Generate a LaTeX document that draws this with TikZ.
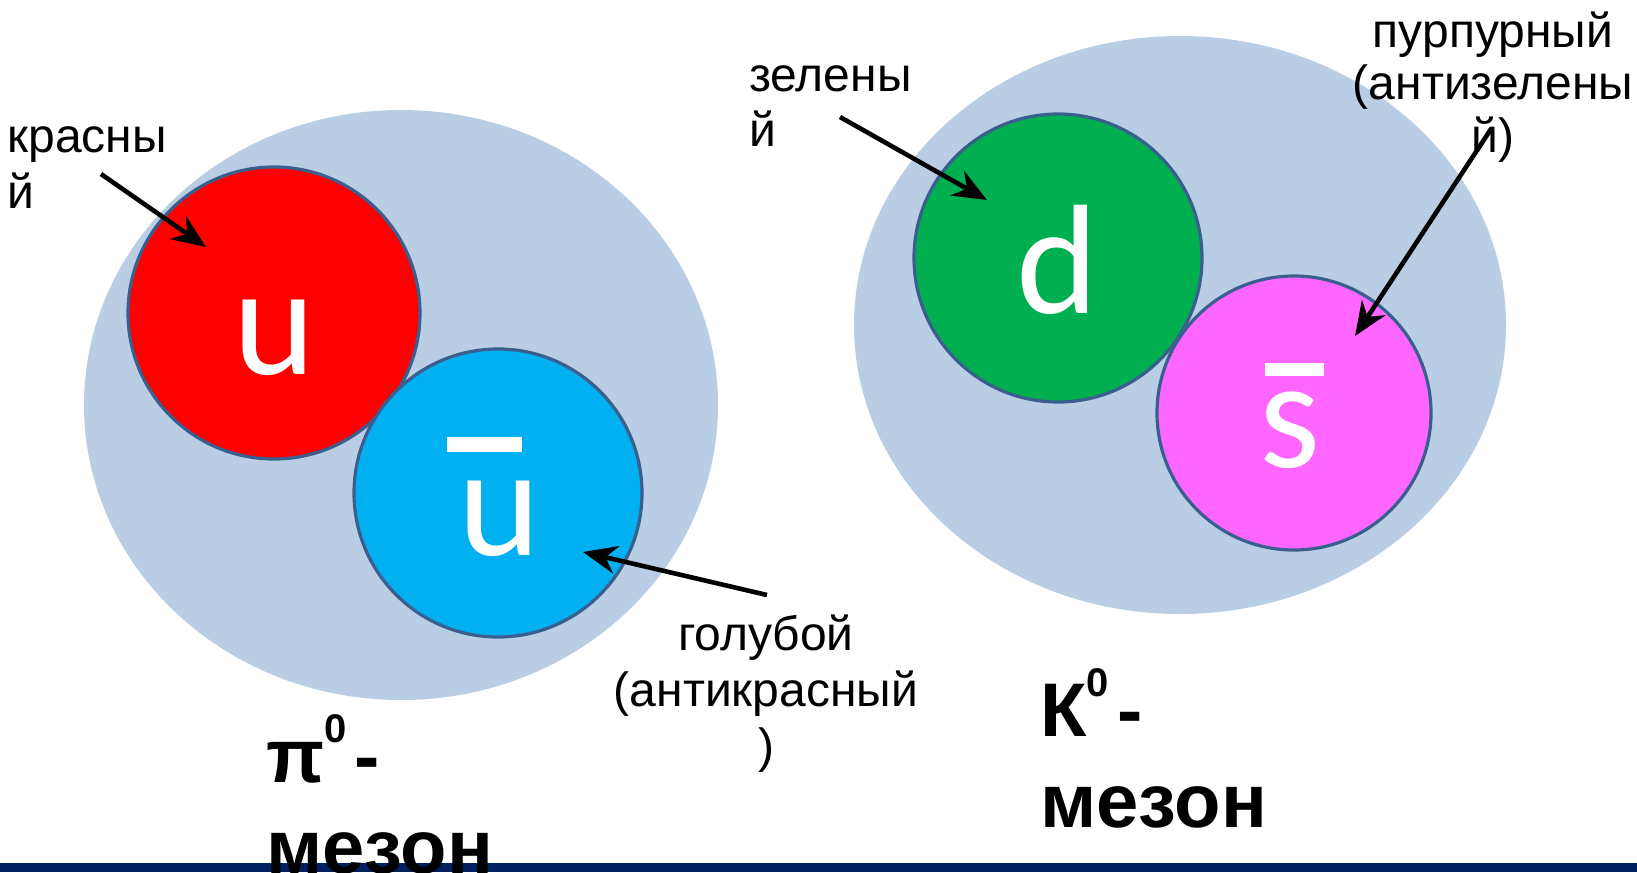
\documentclass[tikz,border=0pt]{standalone}
\usepackage{fontspec}
\setmainfont{Liberation Sans}
\newfontfamily\quarkfont{Carlito}
\usetikzlibrary{arrows.meta}

\definecolor{mesonfill}{HTML}{B9CDE5}
\definecolor{quarkedge}{HTML}{3A5F8E}
\definecolor{quarkred}{HTML}{FF0000}
\definecolor{quarkcyan}{HTML}{00B0F0}
\definecolor{quarkgreen}{HTML}{00B050}
\definecolor{quarkpink}{HTML}{FF66FF}
\definecolor{footerblue}{HTML}{002060}

\begin{document}
\begin{tikzpicture}[
  x=0.5pt,
  y=-0.5pt,
  meson/.style={fill=mesonfill},
  quark/.style={draw=quarkedge,line width=1.6pt},
  flavour/.style={text=white,inner sep=0pt,anchor=base,font=\quarkfont\fontsize{78}{78}\selectfont},
  colourlabel/.style={inner sep=0pt,font=\fontsize{24}{28}\selectfont},
  mesonname/.style={inner sep=0pt,anchor=base west,align=left,font=\bfseries\fontsize{38}{45.5}\selectfont},
  pointer/.style={draw=black,line width=2.3pt,-{Stealth[length=17pt,width=14pt]}}
]
  % Slide frame in pixels, y running downwards.
  \useasboundingbox (0,0) rectangle (1637,872);

  % Meson bodies.
  \fill[meson] (401,405) ellipse[x radius=317,y radius=295];
  \fill[meson] (1180,325) ellipse[x radius=326,y radius=289];

  % Quark discs: pion pair on the left, kaon pair on the right.
  \draw[quark,fill=quarkred] (274,313) circle[radius=146];
  \draw[quark,fill=quarkcyan] (498,493) circle[radius=144];
  \draw[quark,fill=quarkgreen] (1058,258) circle[radius=144];
  \draw[quark,fill=quarkpink] (1294,413) circle[radius=137];

  % Quark letters, antiquark bars drawn as white strips.
  \node[flavour] (upQ) at (274,374) {u};
  \node[flavour] (antiupQ) at (499,555) {u};
  \node[flavour] (downQ) at (1057,313) {d};
  \node[flavour] (antistrangeQ) at (1290,467) {s};
  \fill[white] (447,437) rectangle (522,452);
  \fill[white] (1265,363) rectangle (1324,376);

  % Colour labels (placed at the baseline of their last line).
  \node[colourlabel,anchor=base west,align=left] (redLabel) at (7,208) {красны\\й};
  \node[colourlabel,anchor=base west,align=left] (greenLabel) at (749,147) {зелены\\й};
  \node[colourlabel,anchor=base,align=center,font=\fontsize{24}{26}\selectfont] (pinkLabel) at (1493,152) {пурпурный\\(антизелены\\й)};
  \node[colourlabel,anchor=base,align=center] (blueLabel) at (766,762) {голубой\\(антикрасный\\)};

  % Arrow ends.
  \coordinate (redFrom) at (101,174);
  \coordinate (redTo) at (206,247);
  \coordinate (greenFrom) at (840,117);
  \coordinate (greenTo) at (987,200);
  \coordinate (pinkFrom) at (1491,129);
  \coordinate (pinkTo) at (1355,336);
  \coordinate (blueFrom) at (767,595);
  \coordinate (blueTo) at (583,552);
  \draw[pointer] (redFrom) -- (redTo);
  \draw[pointer] (greenFrom) -- (greenTo);
  \draw[pointer] (pinkFrom) -- (pinkTo);
  \draw[pointer] (blueFrom) -- (blueTo);

  % Footer strip, names printed over it.
  \fill[footerblue] (0,863) rectangle (1637,872);
  \node[mesonname] (pionName) at (266,873) {π\raisebox{20pt}{\fontsize{20}{20}\selectfont 0}\hspace{4pt}-\\мезон};
  \node[mesonname] (kaonName) at (1040,827) {К\raisebox{20pt}{\fontsize{20}{20}\selectfont 0}\hspace{4pt}-\\мезон};
\end{tikzpicture}
\end{document}
